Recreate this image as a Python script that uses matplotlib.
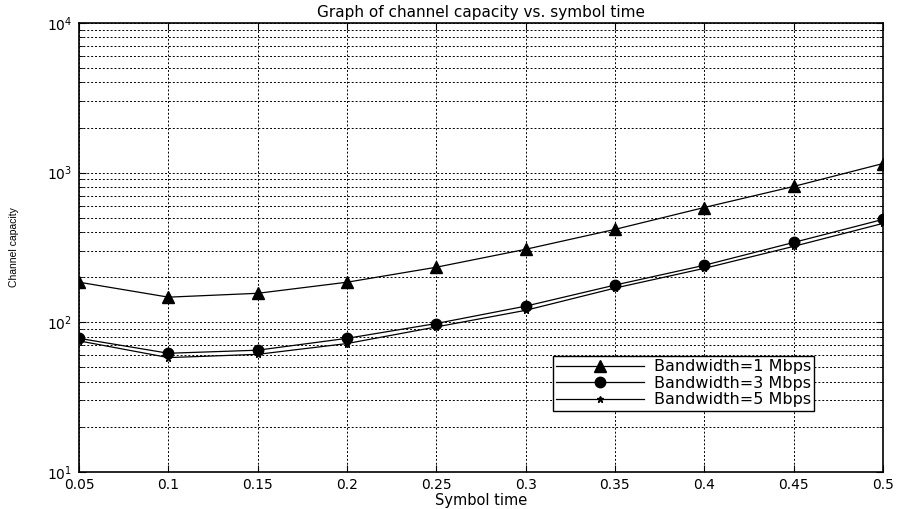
import matplotlib
matplotlib.use("Agg")
import matplotlib.pyplot as plt
from matplotlib.ticker import LogLocator, NullFormatter

# symbol time values and channel capacity
symbol_time = [0.05, 0.1, 0.15, 0.2, 0.25, 0.3, 0.35, 0.4, 0.45, 0.5]
cap_bw1 = [185, 147, 156, 185, 233, 307, 417, 584, 807, 1148]
cap_bw3 = [78, 62, 65, 78, 98, 128, 177, 240, 341, 486]
cap_bw5 = [75, 58, 61, 72, 93, 120, 169, 229, 321, 457]
series_labels = ["Bandwidth=1 Mbps", "Bandwidth=3 Mbps", "Bandwidth=5 Mbps"]
x_ticks = [0.05, 0.1, 0.15, 0.2, 0.25, 0.3, 0.35, 0.4, 0.45, 0.5]
x_tick_labels = ["0.05", "0.1", "0.15", "0.2", "0.25", "0.3", "0.35", "0.4", "0.45", "0.5"]

plt.rcParams["font.family"] = ["DejaVu Sans"]

fig = plt.figure(figsize=(8.99, 5.09), dpi=100)
ax = fig.add_axes([0.088, 0.073, 0.894, 0.882])

ax.semilogy(symbol_time, cap_bw1, "-^", color="black", lw=0.9, ms=8,
            label=series_labels[0])
ax.semilogy(symbol_time, cap_bw3, "-o", color="black", lw=0.9, ms=7.5,
            label=series_labels[1])
ax.semilogy(symbol_time, cap_bw5, "-*", color="black", lw=0.9, ms=5,
            label=series_labels[2])

ax.set_xlim(0.05, 0.5)
ax.set_ylim(10, 10000)
ax.set_xticks(x_ticks)
ax.set_xticklabels(x_tick_labels)
ax.yaxis.set_major_locator(LogLocator(base=10))
ax.yaxis.set_minor_locator(LogLocator(base=10, subs=range(2, 10)))
ax.yaxis.set_minor_formatter(NullFormatter())

ax.tick_params(which="both", direction="in", top=True, right=True)
ax.tick_params(which="major", length=5)
ax.tick_params(which="minor", length=3)
ax.tick_params(axis="x", pad=4.5, labelsize=10)
ax.tick_params(axis="y", pad=5, labelsize=10)

ax.grid(True, which="major", linestyle=(0, (2, 2)), color="black", lw=0.7)
ax.grid(True, which="minor", axis="y", linestyle=(0, (2, 2)), color="black", lw=0.7)

for s in ax.spines.values():
    s.set_linewidth(1.2)

ax.set_title("Graph of channel capacity vs. symbol time", fontsize=11, pad=4)
ax.set_xlabel("Symbol time", fontsize=10.5, labelpad=0.5)
ax.set_ylabel("Channel capacity", fontsize=7.5, family="Liberation Sans", labelpad=20)

leg = ax.legend(loc="upper left", bbox_to_anchor=(0.59, 0.258), fontsize=11.5,
                frameon=True, fancybox=False, framealpha=1, edgecolor="black",
                borderpad=0.2, labelspacing=0.1, handlelength=5.5,
                handletextpad=0.6, borderaxespad=0)
leg.get_frame().set_linewidth(1.0)

fig.savefig("out.png", dpi=100)
